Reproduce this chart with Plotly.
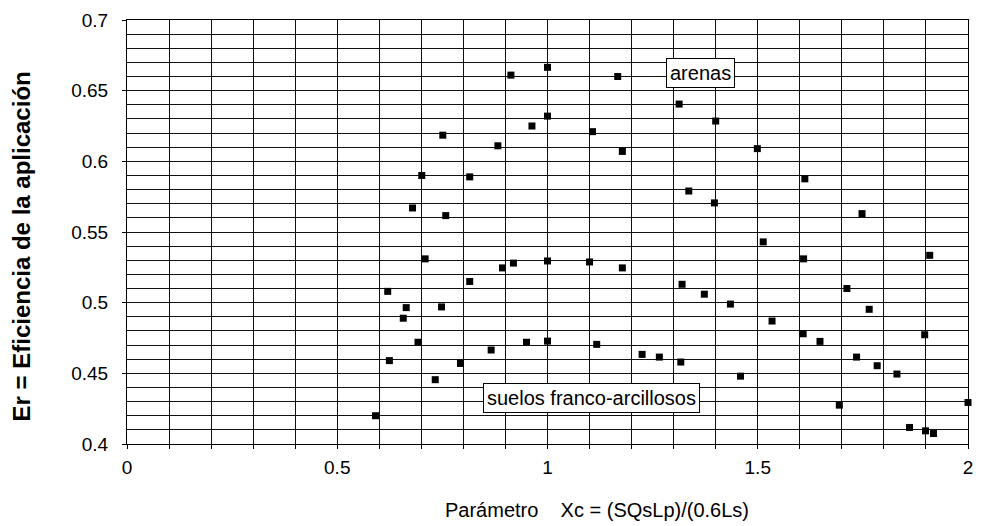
import plotly.graph_objects as go

# Data
xc = [0.591, 0.620, 0.624, 0.657, 0.664, 0.679, 0.692, 0.701, 0.709, 0.733,
      0.748, 0.751, 0.758, 0.793, 0.815, 0.815, 0.866, 0.882, 0.893, 0.913,
      0.919, 0.950, 0.963, 1.000, 1.000, 1.000, 1.000, 1.100, 1.107, 1.117,
      1.167, 1.178, 1.178, 1.225, 1.266, 1.313, 1.317, 1.320, 1.336, 1.373,
      1.397, 1.400, 1.435, 1.459, 1.499, 1.513, 1.534, 1.608, 1.609, 1.612,
      1.648, 1.694, 1.712, 1.735, 1.748, 1.765, 1.784, 1.831, 1.861, 1.897,
      1.899, 1.909, 1.918, 2.000]
er = [0.420, 0.508, 0.459, 0.489, 0.4965, 0.567, 0.472, 0.590, 0.531, 0.4455,
      0.497, 0.6185, 0.5616, 0.457, 0.589, 0.515, 0.4665, 0.611, 0.5246, 0.661,
      0.528, 0.472, 0.625, 0.6665, 0.632, 0.5295, 0.4728, 0.5288, 0.621, 0.4705,
      0.660, 0.607, 0.5246, 0.4634, 0.4615, 0.6405, 0.458, 0.513, 0.579, 0.506,
      0.5706, 0.6285, 0.499, 0.448, 0.609, 0.543, 0.487, 0.478, 0.531, 0.5876,
      0.4726, 0.4275, 0.510, 0.4615, 0.563, 0.4953, 0.4554, 0.4495, 0.4117, 0.4773,
      0.4093, 0.5335, 0.4074, 0.4294]

label_texts = ["arenas", "suelos franco-arcillosos"]
label_x = [1.364, 1.1046]
label_y = [0.6628, 0.4326]

x_title = "Parámetro\u00a0\u00a0\u00a0\u00a0Xc = (SQsLp)/(0.6Ls)"
y_title = "Er = Eficiencia de la aplicación"

FONT = "Liberation Sans, Arial, sans-serif"
GRID = "#111111"

fig = go.Figure()
fig.add_trace(go.Scatter(
    x=xc, y=er, mode="markers",
    marker=dict(symbol="square", size=7, color="black"),
    cliponaxis=False, showlegend=False, hoverinfo="x+y"))

for t, lx, ly in zip(label_texts, label_x, label_y):
    fig.add_annotation(x=lx, y=ly, xref="x", yref="y", text=t, showarrow=False,
                       font=dict(family=FONT, size=20, color="black"),
                       bgcolor="white", bordercolor="black", borderwidth=1,
                       borderpad=3, xanchor="center", yanchor="middle")

fig.add_annotation(xref="paper", yref="paper", x=0.559, y=0, yshift=-66,
                   text=x_title, showarrow=False, xanchor="center", yanchor="middle",
                   font=dict(family=FONT, size=20, color="black"))
fig.add_annotation(xref="paper", yref="paper", x=-0.1249, y=0.4658,
                   text="<b>" + y_title + "</b>", showarrow=False, textangle=-90,
                   xanchor="center", yanchor="middle",
                   font=dict(family=FONT, size=24, color="black"))

fig.update_xaxes(range=[0, 2], dtick=0.5, tick0=0, showgrid=True, gridcolor=GRID,
                 gridwidth=1, showline=True, linecolor="black", linewidth=1,
                 mirror=True, ticks="outside", ticklen=4, tickcolor="black",
                 tickfont=dict(family=FONT, size=19, color="black"),
                 ticklabelstandoff=2, zeroline=False, automargin=False,
                 minor=dict(dtick=0.1, tick0=0, showgrid=True, gridcolor=GRID,
                            gridwidth=1, ticks="outside", ticklen=4,
                            tickcolor="black"))
fig.update_yaxes(range=[0.4, 0.7], dtick=0.05, tick0=0, showgrid=True, gridcolor=GRID,
                 gridwidth=1, showline=True, linecolor="black", linewidth=1,
                 mirror=True, ticks="outside", ticklen=4, tickcolor="black",
                 tickfont=dict(family=FONT, size=19, color="black"),
                 ticklabelstandoff=10, zeroline=False, tickformat="~g",
                 automargin=False,
                 minor=dict(dtick=0.01, tick0=0, showgrid=True, gridcolor=GRID,
                            gridwidth=1, ticks=""))

fig.update_layout(width=974, height=518,
                  margin=dict(l=119, r=14, t=12, b=82, autoexpand=False),
                  paper_bgcolor="white", plot_bgcolor="white",
                  font=dict(family=FONT, color="black"))

fig.write_html("out.html")
